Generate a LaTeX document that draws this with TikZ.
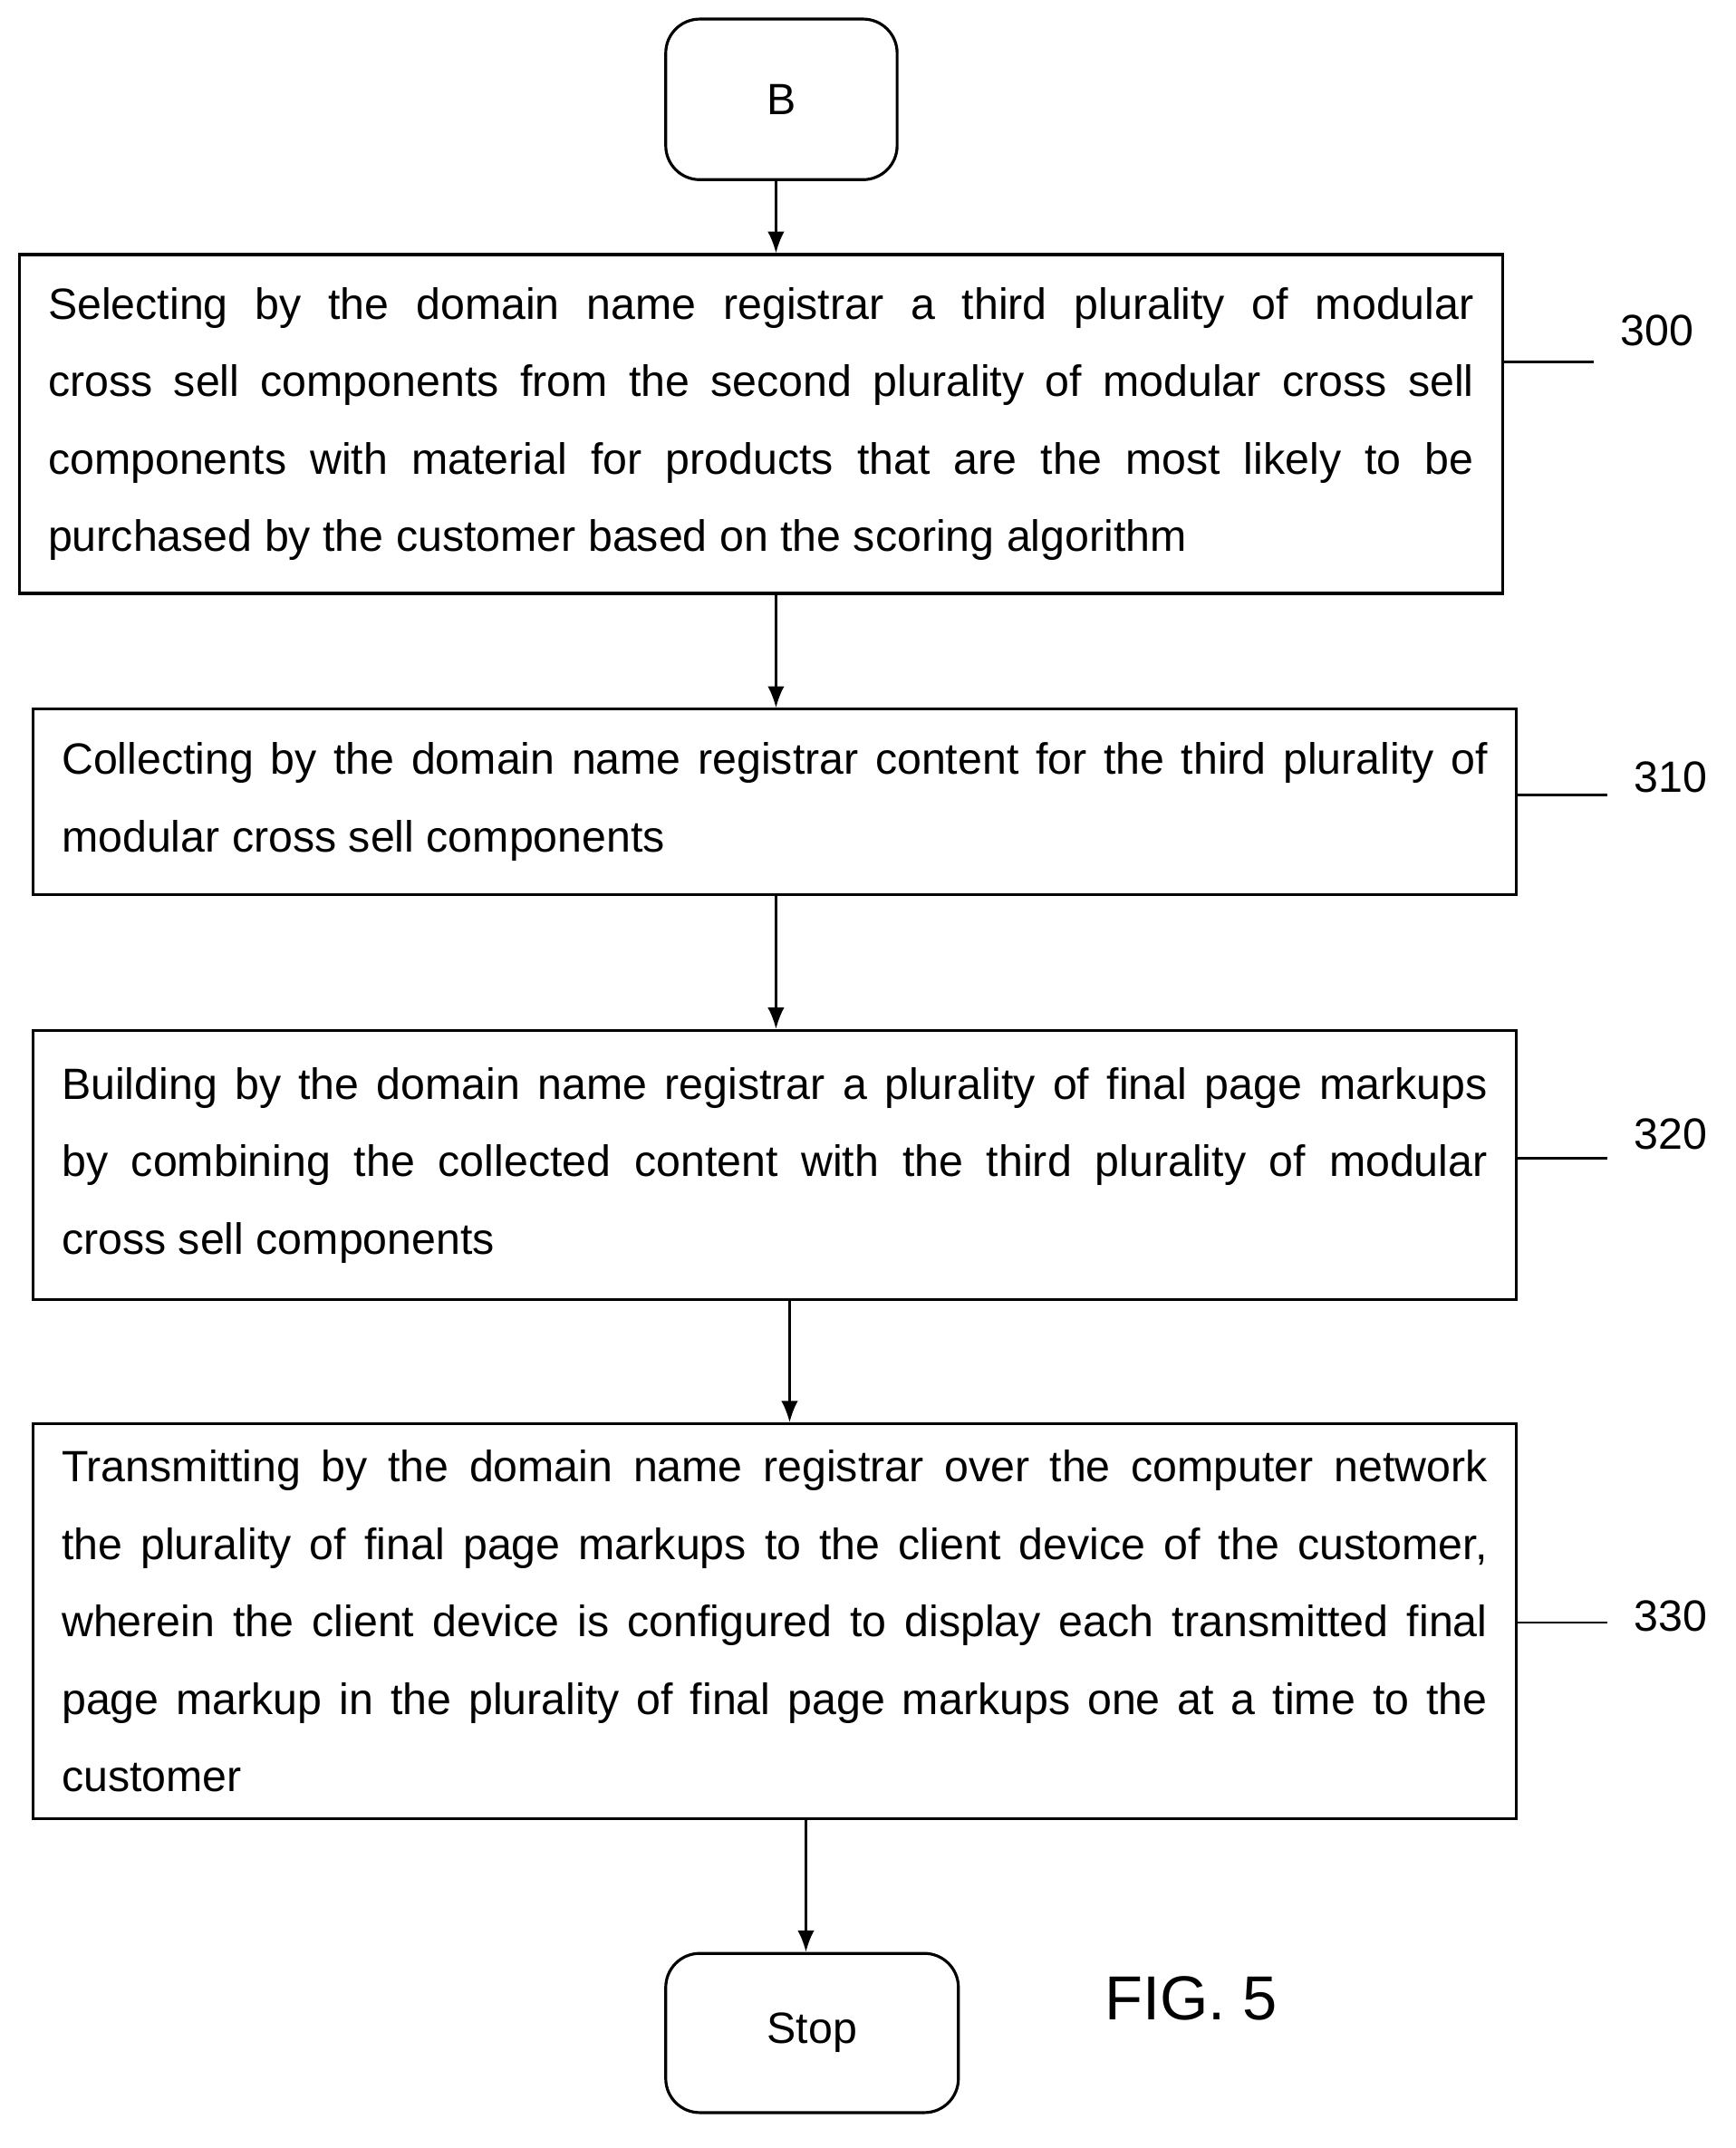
\documentclass[tikz,border=0pt]{standalone}
\usepackage{fontspec}
\setmainfont{Liberation Sans}
\usetikzlibrary{calc,arrows.meta}
\begin{document}
\begin{tikzpicture}[x=0.02cm,y=-0.02cm,line width=1.2pt,font=\fontsize{18.3}{32.4}\selectfont]
    \tikzstyle{process} = [draw, shape=rectangle, minimum width=21.8cm, text width=20.95cm, align=justify, inner sep=0pt, execute at begin node={\hyphenpenalty=10000\emergencystretch=3em}]
    \tikzstyle{term} = [draw, shape=rectangle, rounded corners=0.5cm]
    \tikzstyle{tag} = [anchor=center]
    \tikzstyle{flow} = [-{Latex[length=9pt,width=7pt]}]
    \useasboundingbox (0,0) rectangle (1275,1578);

    \node [term, minimum width=3.4cm, minimum height=2.36cm] at (574,73) (start) {B};
    \node [process, minimum height=4.98cm] at (559,311.5) (s300) {Selecting by the domain name registrar a third plurality of modular\linebreak cross sell components from the second plurality of modular cross sell\linebreak components with material for products that are the most likely to be\linebreak purchased by the customer based on the scoring algorithm};
    \node [process, minimum height=2.72cm] at (569,589) (s310) {Collecting by the domain name registrar content for the third plurality of\linebreak modular cross sell components};
    \node [process, minimum height=3.96cm] at (569,856) (s320) {Building by the domain name registrar a plurality of final page markups\linebreak by combining the collected content with the third plurality of modular\linebreak cross sell components};
    \node [process, minimum height=5.8cm] at (569,1191) (s330) {Transmitting by the domain name registrar over the computer network\linebreak the plurality of final page markups to the client device of the customer,\linebreak wherein the client device is configured to display each transmitted final\linebreak page markup in the plurality of final page markups one at a time to the\linebreak customer};
    \node [term, minimum width=4.3cm, minimum height=2.34cm] at (596.5,1493.5) (stop) {Stop};
    \node [tag, font=\fontsize{26}{30}\selectfont] at (875,1468) (fig) {FIG. 5};

    \node [tag] at (1217,243) (l300) {300};
    \node [tag] at (1227,571) (l310) {310};
    \node [tag] at (1227,833) (l320) {320};
    \node [tag] at (1227,1187) (l330) {330};

    \begin{scope}[line width=1pt]
    \draw [flow] ($(start.south)+(-4,0)$) -- ($(s300.north)+(11,0)$);
    \draw [flow] ($(s300.south)+(11,0)$) -- ($(s310.north)+(1,0)$);
    \draw [flow] ($(s310.south)+(1,0)$) -- ($(s320.north)+(1,0)$);
    \draw [flow] ($(s320.south)+(11,0)$) -- ($(s330.north)+(11,0)$);
    \draw [flow] ($(s330.south)+(23,0)$) -- ($(stop.north)+(-4.5,0)$);
    \draw ($(s300.east)+(0,-45.5)$) -- ++(66,0);
    \draw ($(s310.east)+(0,-5)$) -- ++(66,0);
    \draw ($(s320.east)+(0,-5)$) -- ++(66,0);
    \draw ($(s330.east)+(0,1)$) -- ++(66,0);
    \end{scope}
\end{tikzpicture}
\end{document}
